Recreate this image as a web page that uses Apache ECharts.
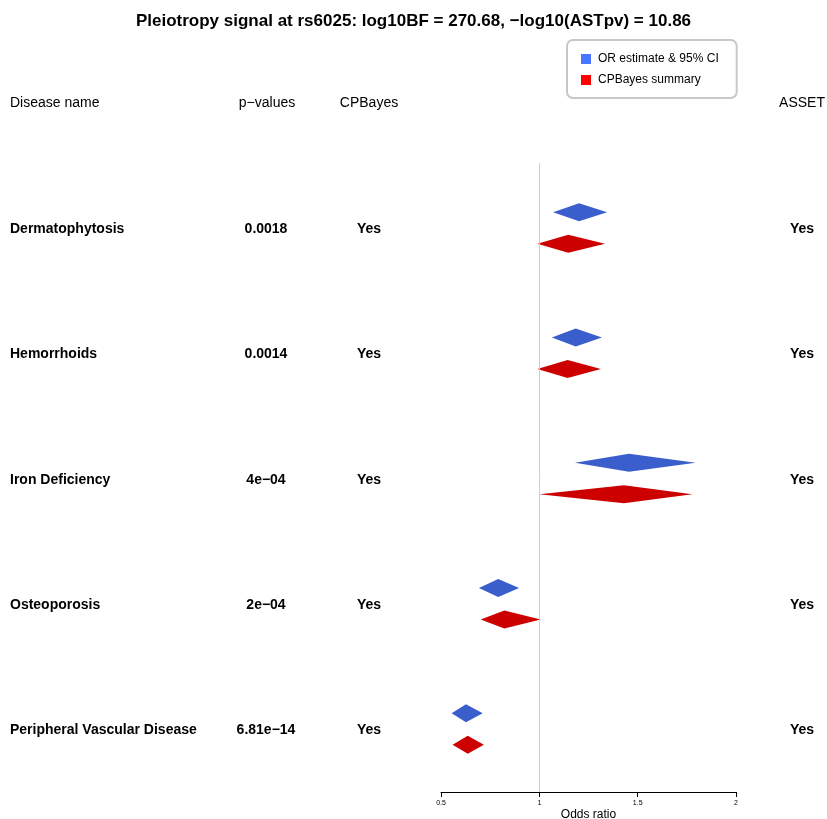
<!DOCTYPE html>
<html>
<head>
<meta charset="utf-8">
<script src="https://cdn.jsdelivr.net/npm/echarts@6/dist/echarts.min.js"></script>
<style>
  html, body { margin: 0; padding: 0; background: #fff; }
  #chart { width: 827px; height: 819px; }
</style>
</head>
<body>
<div id="chart"></div>
<script>
// Per-trait association summary at rs6025
const diseases = ['Dermatophytosis', 'Hemorrhoids', 'Iron Deficiency', 'Osteoporosis', 'Peripheral Vascular Disease'];
const pValues = ['0.0018', '0.0014', '4e\u221204', '2e\u221204', '6.81e\u221214'];
const cpbayesSel = ['Yes', 'Yes', 'Yes', 'Yes', 'Yes'];
const assetSel = ['Yes', 'Yes', 'Yes', 'Yes', 'Yes'];

// Odds ratio estimate with 95% CI
const orLow = [1.07, 1.064, 1.181, 0.693, 0.554];
const orEst = [1.202, 1.185, 1.456, 0.791, 0.627];
const orHigh = [1.345, 1.318, 1.795, 0.897, 0.712];

// CPBayes summary interval
const cpbLow = [0.99, 0.99, 1.0, 0.702, 0.559];
const cpbEst = [1.147, 1.144, 1.43, 0.822, 0.636];
const cpbHigh = [1.334, 1.313, 1.778, 1.007, 0.718];

const xTicks = [0.5, 1, 1.5, 2];

const FONT = '"Liberation Sans", Helvetica, Arial, sans-serif';
const seriesNames = ['OR estimate & 95% CI', 'CPBayes summary'];

const orData = diseases.map((d, i) => [i, orLow[i], orEst[i], orHigh[i]]);
const cpbData = diseases.map((d, i) => [i, cpbLow[i], cpbEst[i], cpbHigh[i]]);
const rowData = diseases.map((d, i) => [i]);

function diamond(offset) {
  return function (params, api) {
    const i = api.value(0);
    const lo = api.coord([api.value(1), i]);
    const mid = api.coord([api.value(2), i]);
    const hi = api.coord([api.value(3), i]);
    const y = mid[1] + offset;
    const h = 9;
    return {
      type: 'polygon',
      shape: { points: [[lo[0], y], [mid[0], y - h], [hi[0], y], [mid[0], y + h]] },
      style: { fill: api.visual('color') }
    };
  };
}

function rowText(params, api) {
  const i = api.value(0);
  const y = api.coord([1, i])[1] + 1;
  const base = { font: 'bold 14px ' + FONT, fill: '#000', verticalAlign: 'middle' };
  return {
    type: 'group',
    children: [
      { type: 'text', style: Object.assign({ x: 10, y: y, text: diseases[i], align: 'left' }, base) },
      { type: 'text', style: Object.assign({ x: 266, y: y, text: pValues[i], align: 'center' }, base) },
      { type: 'text', style: Object.assign({ x: 369, y: y, text: cpbayesSel[i], align: 'center' }, base) },
      { type: 'text', style: Object.assign({ x: 802, y: y, text: assetSel[i], align: 'center' }, base) }
    ]
  };
}

const headerStyle = { font: '14px ' + FONT, fill: '#000', verticalAlign: 'middle' };

const chart = echarts.init(document.getElementById('chart'), null, { renderer: 'canvas' });
chart.setOption({
  animation: false,
  backgroundColor: '#fff',
  title: {
    text: 'Pleiotropy signal at rs6025: log10BF = 270.68, \u2212log10(ASTpv) = 10.86',
    left: 'center',
    top: 8,
    textStyle: { fontFamily: FONT, fontSize: 17, fontWeight: 'bold', color: '#000' }
  },
  legend: {
    orient: 'vertical',
    left: 567,
    top: 40,
    padding: [13, 18, 12, 14],
    itemWidth: 10,
    itemHeight: 10,
    itemGap: 9,
    borderColor: '#c8c8c8',
    borderWidth: 2,
    borderRadius: 6,
    icon: 'rect',
    textStyle: { fontFamily: FONT, fontSize: 12, color: '#000', padding: [0, 0, 0, 2] },
    data: [
      { name: seriesNames[0], itemStyle: { color: '#4876FF' } },
      { name: seriesNames[1], itemStyle: { color: '#FF0000' } }
    ]
  },
  graphic: [
    { type: 'text', x: 10, y: 103, style: Object.assign({ text: 'Disease name', align: 'left' }, headerStyle) },
    { type: 'text', x: 267, y: 103, style: Object.assign({ text: 'p\u2212values', align: 'center' }, headerStyle) },
    { type: 'text', x: 369, y: 103, style: Object.assign({ text: 'CPBayes', align: 'center' }, headerStyle) },
    { type: 'text', x: 802, y: 103, style: Object.assign({ text: 'ASSET', align: 'center' }, headerStyle) }
  ],
  grid: { left: 441, right: 91, top: 163, bottom: 27, containLabel: false, outerBoundsMode: 'none' },
  xAxis: {
    type: 'value',
    min: 0.5,
    max: 2,
    interval: 0.5,
    name: 'Odds ratio',
    nameLocation: 'middle',
    nameGap: 17,
    nameMoveOverlap: false,
    nameTextStyle: { fontFamily: FONT, fontSize: 12, color: '#000' },
    axisLine: { show: true, onZero: false, lineStyle: { color: '#000', width: 1 } },
    axisTick: { show: true, length: 5, lineStyle: { color: '#000' } },
    axisLabel: {
      fontFamily: FONT, fontSize: 7, color: '#000', margin: 8,
      customValues: xTicks,
      formatter: v => String(v)
    },
    splitLine: { show: false }
  },
  yAxis: {
    type: 'value',
    inverse: true,
    min: -0.52,
    max: 4.5,
    show: false,
    splitLine: { show: false }
  },
  series: [
    {
      name: seriesNames[0],
      type: 'custom',
      color: '#3A5FCD',
      itemStyle: { color: '#3A5FCD' },
      renderItem: diamond(-16),
      encode: { x: [1, 2, 3], y: 0 },
      data: orData,
      markLine: {
        silent: true,
        symbol: 'none',
        label: { show: false },
        lineStyle: { color: '#cfcfcf', width: 1, type: 'solid' },
        data: [{ xAxis: 1 }]
      }
    },
    {
      name: seriesNames[1],
      type: 'custom',
      color: '#CD0000',
      itemStyle: { color: '#CD0000' },
      renderItem: diamond(15.5),
      encode: { x: [1, 2, 3], y: 0 },
      data: cpbData
    },
    {
      name: 'rows',
      type: 'custom',
      silent: true,
      renderItem: rowText,
      encode: { y: 0 },
      data: rowData
    }
  ]
});
</script>
</body>
</html>
